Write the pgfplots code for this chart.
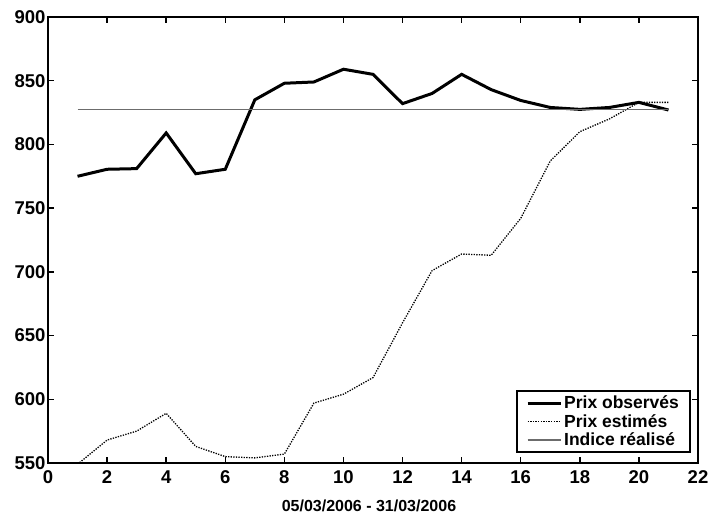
\documentclass[border=0pt]{standalone}
\usepackage{fontspec}
\setmainfont{Liberation Sans}
\usepackage{pgfplots}
\pgfplotsset{compat=1.18}
\begin{document}
\begin{tikzpicture}
\begin{axis}[
  scale only axis,
  width=650pt, height=446pt,
  xmin=0, xmax=22, ymin=550, ymax=900,
  xtick={0,2,...,22}, ytick={550,600,...,900},
  tick align=inside,
  major tick length=6pt,
  axis line style={line width=2.6pt},
  every tick/.style={black, line width=1.5pt},
  /pgf/number format/assume math mode=true,
  /pgf/number format/1000 sep={},
  ticklabel style={font=\fontsize{18.5}{20}\selectfont\bfseries},
  xticklabel style={yshift=-4pt},
  yticklabel style={xshift=1pt},
  xlabel={05/03/2006 - 31/03/2006},
  xlabel style={font=\fontsize{16}{18}\selectfont\bfseries, yshift=-9pt, xshift=-4pt},
  legend style={at={(0.989,0.0224)}, anchor=south east, draw=black, line width=1.8pt,
    font=\fontsize{17.5}{19}\selectfont\bfseries, inner xsep=9pt, inner ysep=3pt, row sep=0pt,
    cells={anchor=west}},
  legend image code/.code={\draw[#1] (0pt,0pt) -- (33pt,0pt);},
  clip=true,
]
\addplot[black, line width=3pt, line join=miter] coordinates {
(1,775) (2,780.5) (3,781) (4,809) (5,777) (6,780.5) (7,835) (8,848) (9,849) (10,859)
(11,855) (12,832) (13,840) (14,855) (15,843) (16,834.5) (17,829) (18,827.5) (19,829) (20,833) (21,827)};
\addlegendentry{Prix observés}
\addplot[black, line width=1.3pt, dash pattern=on 1.3pt off 1.3pt] coordinates {
(1,549) (2,568) (3,575) (4,589) (5,563) (6,555) (7,554) (8,557) (9,597) (10,604)
(11,617) (12,660) (13,701) (14,714) (15,713) (16,742) (17,787) (18,810) (19,820) (20,833) (21,833)};
\addlegendentry{Prix estimés}
\addplot[gray!85!black, line width=1.4pt] coordinates {(1,827.5) (21,827.5)};
\addlegendentry{Indice réalisé}
\end{axis}
\pgfresetboundingbox
\path ([xshift=-48pt,yshift=-52pt]current axis.south west) rectangle ([xshift=13pt,yshift=17pt]current axis.north east);
\end{tikzpicture}
\end{document}
